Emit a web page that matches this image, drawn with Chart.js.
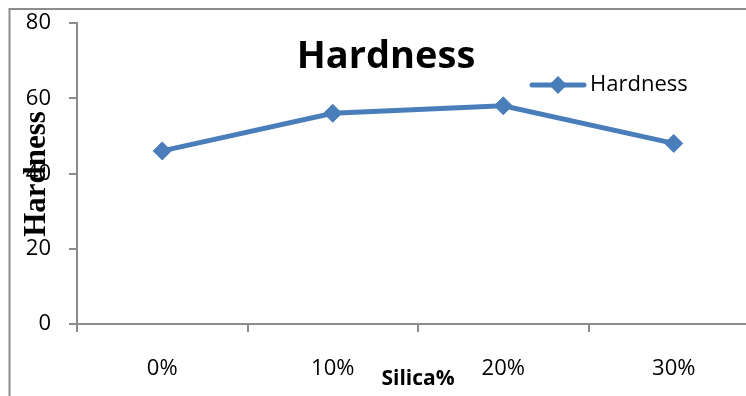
<!DOCTYPE html>
<html>
<head>
<meta charset="utf-8">
<script src="https://cdn.jsdelivr.net/npm/chart.js@4/dist/chart.umd.min.js"></script>
<style>
  html, body { margin: 0; padding: 0; background: #fff; overflow: hidden; }
  #wrap { width: 746px; height: 396px; overflow: hidden; position: relative; }
  canvas { display: block; }
</style>
</head>
<body>
<div id="wrap"><canvas id="c" width="770" height="396"></canvas></div>
<script>
// Hardness versus silica content
const categories = ['0%', '10%', '20%', '30%'];
const hardness = [46, 56, 58, 48];
const yTicks = [0, 20, 40, 60, 80];

const seriesName = 'Hardness';
const chartTitle = 'Hardness';
const xTitle = 'Silica%';
const yTitle = 'Hardness';

const BLUE = '#4a7ebb';
const AXIS = '#8c8c8c';

const decorations = {
  id: 'decorations',
  beforeDraw(chart) {
    const ctx = chart.ctx;
    ctx.save();
    ctx.fillStyle = '#fff';
    ctx.fillRect(0, 0, chart.width, chart.height);
    // outer frame (left and top edges)
    ctx.strokeStyle = AXIS;
    ctx.lineWidth = 2;
    ctx.beginPath();
    ctx.moveTo(9.5, chart.height);
    ctx.lineTo(9.5, 9);
    ctx.lineTo(chart.width, 9);
    ctx.stroke();
    ctx.restore();
  },
  afterDraw(chart) {
    const ctx = chart.ctx;
    const ds = chart.data.datasets[0];
    ctx.save();
    // chart title
    ctx.fillStyle = '#000';
    ctx.font = 'bold 38px "Open Sans"';
    ctx.textAlign = 'center';
    ctx.textBaseline = 'alphabetic';
    ctx.fillText(chartTitle, 386, 68);

    // legend entry
    const ly = 85;
    ctx.strokeStyle = ds.borderColor;
    ctx.lineWidth = 5;
    ctx.lineCap = 'round';
    ctx.beginPath();
    ctx.moveTo(532, ly);
    ctx.lineTo(584, ly);
    ctx.stroke();
    ctx.fillStyle = ds.borderColor;
    ctx.beginPath();
    ctx.moveTo(558 - 9, ly);
    ctx.lineTo(558, ly - 9);
    ctx.lineTo(558 + 9, ly);
    ctx.lineTo(558, ly + 9);
    ctx.closePath();
    ctx.fill();
    ctx.fillStyle = '#000';
    ctx.font = '22px "Open Sans"';
    ctx.textAlign = 'left';
    ctx.textBaseline = 'middle';
    ctx.fillText(ds.label, 590, ly);

    // x axis title
    ctx.font = 'bold 21px "Open Sans"';
    ctx.textAlign = 'center';
    ctx.textBaseline = 'middle';
    ctx.fillText(xTitle, 418, 379);

    // y axis title
    ctx.translate(45, 174);
    ctx.rotate(-Math.PI / 2);
    ctx.font = 'bold 31px "Liberation Serif"';
    ctx.textAlign = 'center';
    ctx.textBaseline = 'alphabetic';
    ctx.fillText(yTitle, 0, 0);
    ctx.restore();
  }
};

new Chart(document.getElementById('c'), {
  type: 'line',
  data: {
    labels: categories,
    datasets: [{
      label: seriesName,
      data: hardness,
      borderColor: BLUE,
      backgroundColor: BLUE,
      borderWidth: 5,
      pointStyle: 'rectRot',
      pointRadius: 9,
      pointBackgroundColor: BLUE,
      pointBorderColor: BLUE,
      pointBorderWidth: 1,
      tension: 0,
      clip: false
    }]
  },
  options: {
    responsive: false,
    animation: false,
    devicePixelRatio: 1,
    layout: { padding: { left: 0, right: 11, top: 23, bottom: 0 } },
    plugins: {
      legend: { display: false },
      title: { display: false },
      tooltip: { enabled: false }
    },
    scales: {
      x: {
        type: 'category',
        offset: true,
        afterFit(s) { s.height = 72; s.paddingLeft = 0; s.paddingRight = 0; },
        grid: {
          offset: true,
          drawOnChartArea: false,
          drawTicks: true,
          tickLength: 8,
          color: AXIS,
          lineWidth: 2
        },
        border: { display: true, color: AXIS, width: 2 },
        ticks: {
          color: '#000',
          font: { family: 'Open Sans', size: 22 },
          padding: 24,
          maxRotation: 0
        }
      },
      y: {
        min: 0,
        max: 80,
        afterFit(s) { s.width = 77; s.paddingTop = 0; s.paddingBottom = 0; },
        afterBuildTicks(s) { s.ticks = yTicks.map(v => ({ value: v })); },
        grid: {
          drawOnChartArea: false,
          drawTicks: true,
          tickLength: 8,
          color: AXIS,
          lineWidth: 2
        },
        border: { display: true, color: AXIS, width: 2 },
        ticks: {
          color: '#000',
          font: { family: 'Open Sans', size: 22 },
          padding: 18
        }
      }
    }
  },
  plugins: [decorations]
});
</script>
</body>
</html>
